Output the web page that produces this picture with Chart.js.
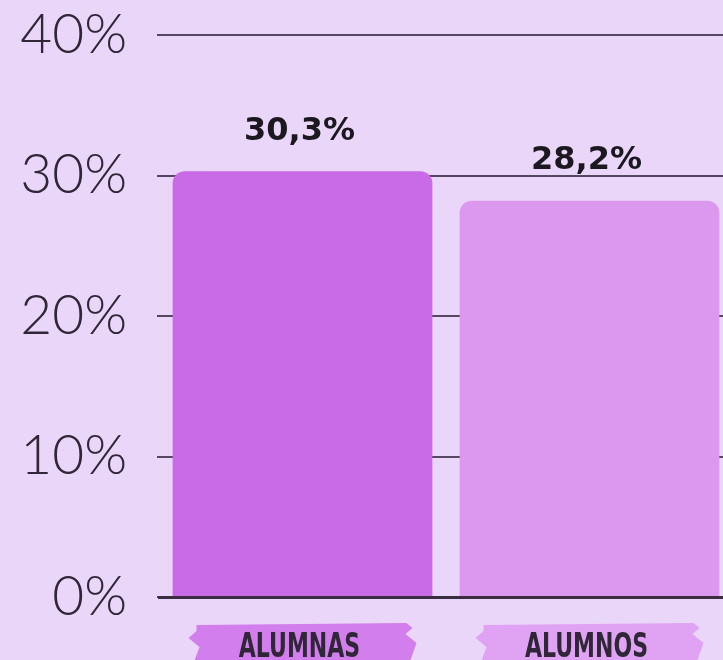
<!DOCTYPE html>
<html>
<head>
<meta charset="utf-8">
<script src="https://cdn.jsdelivr.net/npm/chart.js@4/dist/chart.umd.min.js"></script>
<style>
  html, body { margin: 0; padding: 0; background: #ead6f8; overflow: hidden; }
  #wrap { width: 723px; height: 660px; overflow: hidden; }
</style>
</head>
<body>
<div id="wrap"><canvas id="chart" width="733" height="660"></canvas></div>
<script>
// categories and values
let categories = ["ALUMNAS", "ALUMNOS"];
let values = [30.3, 28.2];
let valueLabels = ["30,3%", "28,2%"];
let yTicks = [0, 10, 20, 30, 40];

let barColors = ["#c96ae6", "#dc98ef"];
let bandColors = ["#d27eec", "#e0a2f2"];
let inkColor = "#2f2638";
let gridColor = "#564761";

// brush-like band and condensed label under each bar
const labelBands = {
    id: "labelBands",
    afterDraw(chart) {
        const ctx = chart.ctx;
        const xs = chart.scales.x;
        const base = xs.top;
        ctx.save();
        xs.ticks.forEach(function(t, i) {
            const cx = xs.getPixelForTick(i);
            const w = 224, top = base + 26, bottom = base + 66;
            ctx.fillStyle = bandColors[i];
            ctx.beginPath();
            ctx.moveTo(cx - w / 2 + 6, top + 2);
            ctx.lineTo(cx + w / 2 - 8, top);
            ctx.lineTo(cx + w / 2 - 2, top + 5);
            ctx.lineTo(cx + w / 2 - 9, top + 11);
            ctx.lineTo(cx + w / 2 + 2, top + 20);
            ctx.lineTo(cx + w / 2 - 5, bottom);
            ctx.lineTo(cx - w / 2 + 3, bottom);
            ctx.lineTo(cx - w / 2 + 9, top + 24);
            ctx.lineTo(cx - w / 2 - 2, top + 15);
            ctx.lineTo(cx - w / 2 + 6, top + 8);
            ctx.closePath();
            ctx.fill();

            ctx.save();
            ctx.translate(cx - 3, base + 60);
            ctx.scale(0.72, 1);
            ctx.fillStyle = inkColor;
            ctx.font = "bold 34px 'DejaVu Sans Condensed', 'DejaVu Sans', sans-serif";
            ctx.textAlign = "center";
            ctx.textBaseline = "alphabetic";
            ctx.fillText(categories[i], 0, 0);
            ctx.restore();
        });
        ctx.restore();
    }
};

// value labels above the bars
const valueTags = {
    id: "valueTags",
    afterDatasetsDraw(chart) {
        const ctx = chart.ctx;
        const meta = chart.getDatasetMeta(0);
        ctx.save();
        ctx.fillStyle = "#1c1820";
        ctx.font = "bold 32px 'DejaVu Sans', sans-serif";
        ctx.textAlign = "center";
        ctx.textBaseline = "middle";
        meta.data.forEach(function(bar, i) {
            ctx.fillText(valueLabels[i], bar.x - 3, bar.y - 40);
        });
        ctx.restore();
    }
};

new Chart(document.getElementById("chart"), {
    type: "bar",
    data: {
        labels: categories,
        datasets: [{
            data: values,
            backgroundColor: barColors,
            borderRadius: { topLeft: 12, topRight: 12 },
            borderSkipped: "bottom",
            categoryPercentage: 0.905,
            barPercentage: 1
        }]
    },
    options: {
        responsive: false,
        animation: false,
        layout: { padding: { top: 35, left: 0, right: 0, bottom: 0 } },
        plugins: { legend: { display: false }, tooltip: { enabled: false } },
        scales: {
            y: {
                min: 0,
                max: 40,
                afterBuildTicks(scale) {
                    scale.ticks = yTicks.map(v => ({ value: v }));
                },
                afterFit(scale) {
                    scale.width = 159;
                    scale.paddingTop = 0;
                    scale.paddingBottom = 0;
                },
                grid: {
                    color: gridColor,
                    lineWidth: 2,
                    tickLength: 2,
                    drawOnChartArea: true
                },
                border: { display: false },
                ticks: {
                    padding: 30,
                    color: inkColor,
                    font: { family: "Lato, 'Open Sans', sans-serif", size: 55, weight: 300 },
                    callback: v => v + "%"
                }
            },
            x: {
                afterFit(scale) { scale.height = 63; },
                grid: { display: false },
                border: { display: true, color: "#3a2d42", width: 3 },
                ticks: { display: false }
            }
        }
    },
    plugins: [labelBands, valueTags]
});
</script>
</body>
</html>
